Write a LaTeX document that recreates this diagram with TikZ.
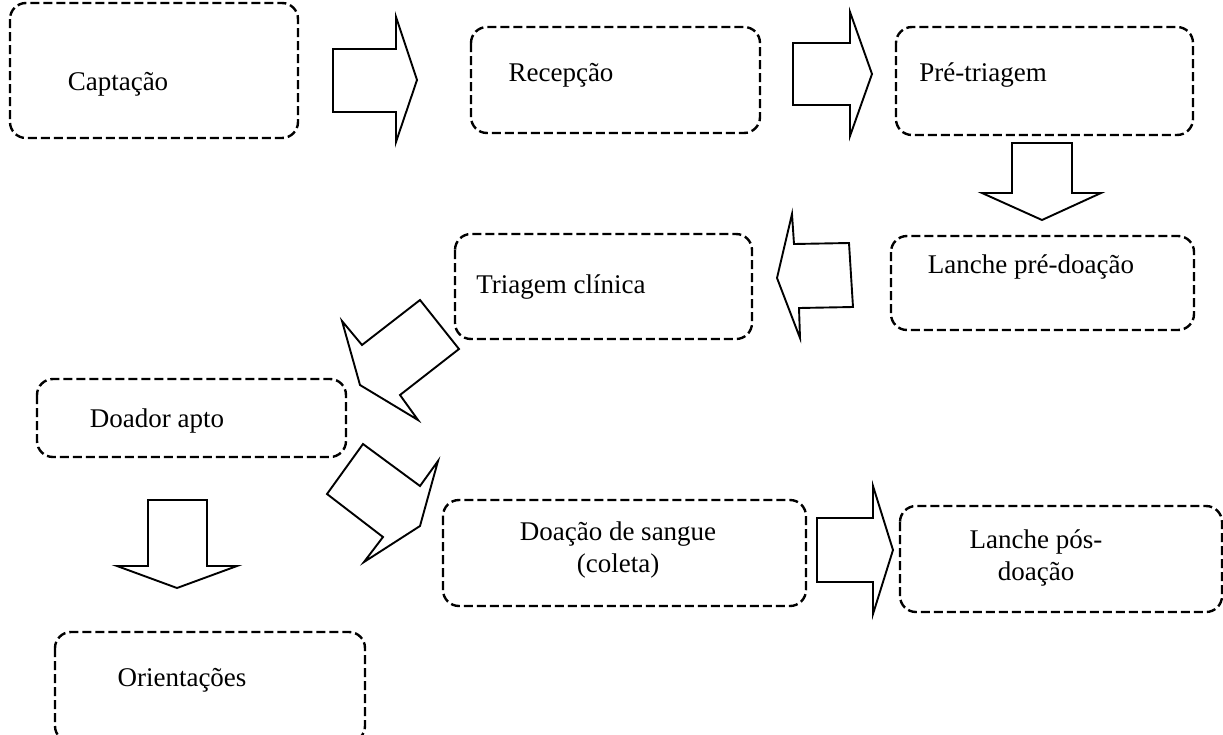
\documentclass[tikz,border=0pt]{standalone}
\usepackage{fontspec}
\setmainfont{Liberation Serif}
\begin{document}
\begin{tikzpicture}[x=1pt,y=-1pt,
  box/.style={draw=black,line width=2.4pt,dash pattern=on 9pt off 4pt,rounded corners=16pt},
  lbl/.style={font=\fontsize{27}{32}\selectfont,align=center,inner sep=0pt},
  blockarrow/.style={draw=black,line width=1.9pt,fill=white,line join=miter}]
\useasboundingbox (0,0) rectangle (1223,734);
% boxes
\draw[box] (10,3) rectangle (298,138);
\draw[box] (471,27) rectangle (760,133);
\draw[box] (896,27) rectangle (1193,135);
\draw[box] (891,236) rectangle (1194,330);
\draw[box] (455,234) rectangle (752,339);
\draw[box] (37,379) rectangle (346,457);
\draw[box] (443,500) rectangle (806,606);
\draw[box] (900,506) rectangle (1222,612);
\draw[box] (55,632) rectangle (365,742);
% labels
\node[lbl] (t1) at (118,84) {Captação};
\node[lbl] (t2) at (561,75) {Recepção};
\node[lbl] (t3) at (983,75) {Pré-triagem};
\node[lbl] (t4) at (1031,267) {Lanche pré-doação};
\node[lbl] (t5) at (561,287) {Triagem clínica};
\node[lbl] (t6) at (157,421) {Doador apto};
\node[lbl] (t7) at (618,550) {Doação de sangue\\(coleta)};
\node[lbl] (t8) at (1036,558) {Lanche pós-\\doação};
\node[lbl] (t9) at (182,680) {Orientações};
% block arrows
\draw[blockarrow] (333,49) -- (396,49) -- (396,17) -- (417,80) -- (396,142) -- (396,112) -- (333,112) -- cycle;
\draw[blockarrow] (793,43) -- (850,43) -- (850,12) -- (872,74) -- (850,136) -- (850,105) -- (793,105) -- cycle;
\draw[blockarrow] (1012,143) -- (1072,143) -- (1072,193) -- (1101,193) -- (1042,220) -- (982,193) -- (1012,193) -- cycle;
\draw[blockarrow] (849,243) -- (853,307) -- (799,308) -- (800,338) -- (777,278) -- (792,214) -- (794,244) -- cycle;
\draw[blockarrow] (420,300) -- (459,349) -- (400,395) -- (418,420) -- (360,385) -- (342,321) -- (362,345) -- cycle;
\draw[blockarrow] (363,444) -- (327,494) -- (383,537) -- (364,562) -- (420,526) -- (438,461) -- (420,486) -- cycle;
\draw[blockarrow] (148,500) -- (207,500) -- (207,566) -- (237,566) -- (177,588) -- (117,566) -- (148,566) -- cycle;
\draw[blockarrow] (817,518) -- (873,518) -- (873,486) -- (893,550) -- (873,614) -- (873,582) -- (817,582) -- cycle;
\end{tikzpicture}
\end{document}
